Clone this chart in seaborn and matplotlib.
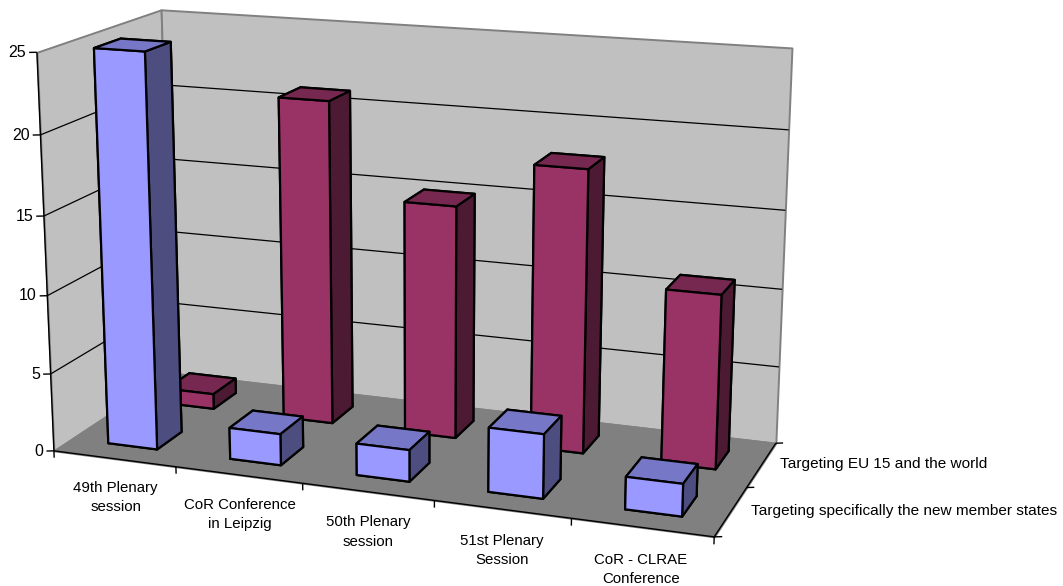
import numpy as np
import pandas as pd
import matplotlib
matplotlib.use("Agg")
import matplotlib.pyplot as plt
from matplotlib.axes import Axes
from mpl_toolkits.mplot3d import proj3d
from mpl_toolkits.mplot3d.art3d import Poly3DCollection, Line3DCollection
import seaborn as sns

categories = ["49th Plenary\nsession", "CoR Conference\nin Leipzig", "50th Plenary\nsession",
              "51st Plenary\nSession", "CoR - CLRAE\nConference"]
series_names = ["Targeting specifically the new member states", "Targeting EU 15 and the world"]
new_member_states = [25, 2, 2, 4, 2]
eu15_and_world = [1, 21, 15, 18, 11]
z_ticks = [0, 5, 10, 15, 20, 25]

sns.set_theme(style="white")
plt.rcParams["font.family"] = ["Liberation Sans", "DejaVu Sans"]

W, H = 1063, 586
NX, NY, ZMAX = len(categories), len(series_names), z_ticks[-1]

# Oblique perspective camera, solved from where the chart box corners fall on the canvas.
box_world = [(0, 0, 0), (NX, 0, 0), (NX, NY, 0), (0, NY, 0),
             (0, 0, ZMAX), (0, NY, ZMAX), (NX, NY, ZMAX)]
box_canvas = [(54, 451), (714, 537), (776, 443), (171.5, 373),
              (37, 52), (161, 10), (792, 48)]


def solve_camera(world, canvas):
    rows = []
    for (x, y, z), (u, v) in zip(world, canvas):
        rows.append([x, y, z, 1, 0, 0, 0, 0, -u * x, -u * y, -u * z, -u])
        rows.append([0, 0, 0, 0, x, y, z, 1, -v * x, -v * y, -v * z, -v])
    p = np.linalg.svd(np.array(rows, float))[2][-1].reshape(3, 4)
    p = p / p[2, 3]
    # Third row gives a depth that grows with distance from the viewer.
    return np.vstack([p[0], p[1], p[2] - [0, 0, 0, 0.5], p[2]])


fig = plt.figure(figsize=(W / 100, H / 100), dpi=100, facecolor="white")
ax = fig.add_axes([0, 0, 1, 1], projection="3d", computed_zorder=False)
camera = solve_camera(box_world, box_canvas)
ax.get_proj = lambda: camera
ax.apply_aspect = lambda position=None: Axes.set_position(ax, [0, 0, 1, 1], which="active")
ax.set_axis_off()
ax.set_xlim(0, NX)
ax.set_ylim(0, NY)
ax.set_zlim(0, ZMAX)
ax.viewLim.intervalx = (0, W)
ax.viewLim.intervaly = (H, 0)


def add_lines(segments, colour, width, order):
    ax.add_collection3d(Line3DCollection(segments, colors=colour, linewidths=width, zorder=order))


def add_label(x, y, z, text, **style):
    # Labels sit at the projected position of their world anchor.
    u, v, _ = proj3d.proj_transform(np.array([x]), np.array([y]), np.array([z]), camera)
    ax.text2D(u[0], v[0], text, transform=ax.transData, color="black", zorder=10, **style)


# Walls and floor
WALL, FLOOR, FRAME = "#C0C0C0", "#808080", "#808080"
panes = [
    ([(0, 0, 0), (0, NY, 0), (0, NY, ZMAX), (0, 0, ZMAX)], WALL),
    ([(0, NY, 0), (NX, NY, 0), (NX, NY, ZMAX), (0, NY, ZMAX)], WALL),
    ([(0, 0, 0), (NX, 0, 0), (NX, NY, 0), (0, NY, 0)], FLOOR),
]
for verts, colour in panes:
    ax.add_collection3d(Poly3DCollection([verts], facecolors=colour, edgecolors=FRAME,
                                         linewidths=1.4, zorder=1))

# Horizontal gridlines wrap around both walls
grid = []
for z in z_ticks[1:-1]:
    grid += [[(0, 0, z), (0, NY, z)], [(0, NY, z), (NX, NY, z)]]
add_lines(grid, "black", 0.9, 2)

# Axis lines and ticks
SIDE_X, SIDE_Y = 0.05, 0.0225  # world step that reads as a horizontal screen tick
axis_lines = [[(0, 0, 0), (0, 0, ZMAX)], [(0, 0, 0), (NX, 0, 0)], [(NX, 0, 0), (NX, NY, 0)]]
for z in z_ticks:
    axis_lines.append([(0, 0, z), (-SIDE_X, -SIDE_Y, z)])
    add_label(-1.4 * SIDE_X, -1.4 * SIDE_Y, z, str(z), ha="right", va="center", fontsize=11.5)
for i in range(NX + 1):
    axis_lines.append([(i, 0, 0), (i, 0, -0.45)])
for j in range(NY + 1):
    axis_lines.append([(NX, j, 0), (NX + SIDE_X, j + SIDE_Y, 0)])
add_lines(axis_lines, "black", 1.0, 3)

for i, label in enumerate(categories):
    add_label(i + 0.5, 0, -2.55, label, ha="center", va="center", fontsize=10.8, linespacing=1.5)
for j, label in enumerate(series_names):
    add_label(NX + 0.127, j + 0.5 + 0.057, 0, label, ha="left", va="center", fontsize=11.1)

# Bars, back row first and left to right so nearer ones paint over farther ones
table = pd.DataFrame({"category": categories,
                      series_names[0]: new_member_states,
                      series_names[1]: eu15_and_world}).melt(
    id_vars="category", var_name="series", value_name="value")
table["col"] = table["category"].map(categories.index)
table["row"] = table["series"].map(series_names.index)

base = sns.color_palette(["#9999FF", "#993366"])
BAR_W, BAR_D = 0.405, 0.42
order = table.sort_values(["row", "col"], ascending=[False, True])
for rank, rec in enumerate(order.itertuples()):
    front = base[rec.row]
    top = tuple(c * 0.78 for c in front)
    side = tuple(c * 0.5 for c in front)
    # bar3d face order: bottom, top, front, back, left, right
    faces = [front, top, front, front, side, side]
    ax.bar3d(rec.col + 0.504 - BAR_W / 2, rec.row + 0.5 - BAR_D / 2, 0,
             BAR_W, BAR_D, rec.value, color=faces, shade=False,
             edgecolor="black", linewidth=1.6, zorder=5 + rank * 0.01)

fig.savefig("out.png", dpi=100)
